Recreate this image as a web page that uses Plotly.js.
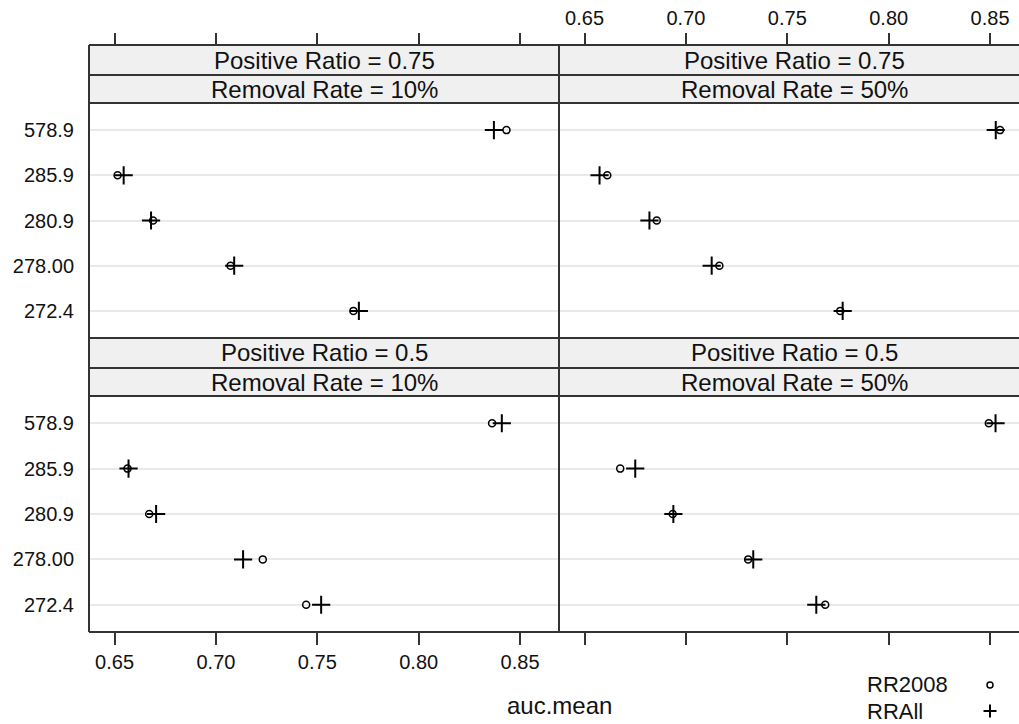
<!DOCTYPE html>
<html>
<head>
<meta charset="utf-8">
<script src="https://cdn.plot.ly/plotly-3.0.1.min.js"></script>
<style>
html, body { margin: 0; padding: 0; overflow: hidden; background: #fff; }
#chart { width: 1040px; height: 724px; }
</style>
</head>
<body>
<div id="chart"></div>
<script>
// ---- data ----
const categories = ["578.9", "285.9", "280.9", "278.00", "272.4"];
const tickVals = [0.65, 0.70, 0.75, 0.80, 0.85];
const tickText = ["0.65", "0.70", "0.75", "0.80", "0.85"];
const positiveRatio = ["0.75", "0.75", "0.5", "0.5"];
const removalRate = ["10%", "50%", "10%", "50%"];
const seriesNames = ["RR2008", "RRAll"];

// panel 1: Positive Ratio 0.75, Removal 10%
const rr2008_p75_r10 = [0.8433, 0.6515, 0.6690, 0.7072, 0.7678];
const rrall_p75_r10  = [0.8371, 0.6545, 0.6680, 0.7090, 0.7705];
// panel 2: Positive Ratio 0.75, Removal 50%
const rr2008_p75_r50 = [0.8549, 0.6612, 0.6856, 0.7165, 0.7761];
const rrall_p75_r50  = [0.8528, 0.6574, 0.6820, 0.7127, 0.7773];
// panel 3: Positive Ratio 0.5, Removal 10%
const rr2008_p50_r10 = [0.8362, 0.6564, 0.6671, 0.7231, 0.7445];
const rrall_p50_r10  = [0.8410, 0.6569, 0.6705, 0.7134, 0.7519];
// panel 4: Positive Ratio 0.5, Removal 50%
const rr2008_p50_r50 = [0.8494, 0.6676, 0.6935, 0.7307, 0.7687];
const rrall_p50_r50  = [0.8527, 0.6750, 0.6938, 0.7332, 0.7643];

const panelRR2008 = [rr2008_p75_r10, rr2008_p75_r50, rr2008_p50_r10, rr2008_p50_r50];
const panelRRAll  = [rrall_p75_r10, rrall_p75_r50, rrall_p50_r10, rrall_p50_r50];

// ---- layout helpers ----
const W = 1040, H = 724;
const fx = v => v / W;
const fy = v => 1 - v / H;
const FONT = "Liberation Sans, Arial, sans-serif";
const LINE = "#333333";
const xRange = [0.6374, 0.8692];

const colX = [[89, 559], [559, 1029]];
const rowY = [[103, 338], [396, 632]];   // panel bodies
const stripY = [[45, 75, 103], [338, 368, 396]];

const axKeys = ["", "2", "3", "4"];
const traces = [];
for (let p = 0; p < 4; p++) {
  const k = axKeys[p];
  traces.push({
    type: "scatter", mode: "markers", name: seriesNames[0],
    x: panelRR2008[p], y: categories,
    xaxis: "x" + k, yaxis: "y" + k, showlegend: false, cliponaxis: false,
    marker: { symbol: "circle-open", size: 7, color: "#000", line: { width: 1.5, color: "#000" } }
  });
  traces.push({
    type: "scatter", mode: "markers", name: seriesNames[1],
    x: panelRRAll[p], y: categories,
    xaxis: "x" + k, yaxis: "y" + k, showlegend: false, cliponaxis: false,
    marker: { symbol: "cross-thin-open", size: 13, color: "#000", line: { width: 2, color: "#000" } }
  });
}

const catOrder = categories.slice().reverse();
function yAxis(p, showLabels) {
  const r = rowY[Math.floor(p / 2)];
  return {
    domain: [fy(r[1]), fy(r[0])],
    anchor: "x" + axKeys[p],
    type: "category",
    categoryorder: "array",
    categoryarray: catOrder,
    range: [-0.6, 4.6],
    showgrid: true, gridcolor: "#e9e9e9", gridwidth: 2,
    zeroline: false, showline: false,
    ticks: "", showticklabels: showLabels,
    ticklabelstandoff: 14,
    tickfont: { family: FONT, size: 20, color: "#111" },
    fixedrange: true
  };
}
function xAxis(p, top, showLabels) {
  const c = colX[p % 2];
  const ax = {
    domain: [fx(c[0]), fx(c[1])],
    range: xRange,
    tickmode: "array", tickvals: tickVals, ticktext: tickText,
    ticks: "outside", ticklen: 12, tickwidth: 2, tickcolor: LINE,
    showticklabels: showLabels,
    tickfont: { family: FONT, size: 20, color: "#111" },
    showgrid: false, zeroline: false, showline: false,
    fixedrange: true
  };
  if (top) {
    ax.side = "top"; ax.anchor = "free"; ax.position = fy(45);
  } else {
    ax.side = "bottom"; ax.anchor = "y" + axKeys[p];
  }
  return ax;
}

const shapes = [];
// strip backgrounds
for (const c of colX) {
  for (const s of stripY) {
    shapes.push({ type: "rect", xref: "paper", yref: "paper", layer: "below",
      x0: fx(c[0]), x1: fx(c[1]), y0: fy(s[2]), y1: fy(s[0]),
      fillcolor: "#f0f0f0", line: { width: 0 } });
  }
}
// horizontal borders
for (const yy of [45, 75, 103, 338, 368, 396, 632]) {
  shapes.push({ type: "line", xref: "paper", yref: "paper", layer: "above",
    x0: fx(89), x1: fx(1029), y0: fy(yy), y1: fy(yy), line: { color: LINE, width: 2 } });
}
// vertical borders
for (const xx of [89, 559, 1029]) {
  shapes.push({ type: "line", xref: "paper", yref: "paper", layer: "above",
    x0: fx(xx), x1: fx(xx), y0: fy(45), y1: fy(632), line: { color: LINE, width: 2 } });
}
// legend key glyphs
shapes.push({ type: "circle", xref: "paper", yref: "paper",
  x0: fx(987), x1: fx(993), y0: fy(688), y1: fy(682), line: { color: "#000", width: 1.5 } });
shapes.push({ type: "line", xref: "paper", yref: "paper",
  x0: fx(983.5), x1: fx(996.5), y0: fy(711), y1: fy(711), line: { color: "#000", width: 2 } });
shapes.push({ type: "line", xref: "paper", yref: "paper",
  x0: fx(990), x1: fx(990), y0: fy(704.5), y1: fy(717.5), line: { color: "#000", width: 2 } });

const annotations = [];
for (let p = 0; p < 4; p++) {
  const c = colX[p % 2];
  const s = stripY[Math.floor(p / 2)];
  const cx = (c[0] + c[1]) / 2;
  annotations.push({ xref: "paper", yref: "paper", x: fx(cx), y: fy((s[0] + s[1]) / 2),
    text: "Positive Ratio = " + positiveRatio[p], showarrow: false,
    xanchor: "center", yanchor: "middle", font: { family: FONT, size: 24, color: "#111" } });
  annotations.push({ xref: "paper", yref: "paper", x: fx(cx), y: fy((s[1] + s[2]) / 2),
    text: "Removal Rate = " + removalRate[p], showarrow: false,
    xanchor: "center", yanchor: "middle", font: { family: FONT, size: 24, color: "#111" } });
}
annotations.push({ xref: "paper", yref: "paper", x: fx(559), y: fy(705),
  text: "auc.mean", showarrow: false, xanchor: "center", yanchor: "middle",
  font: { family: FONT, size: 24, color: "#111" } });
annotations.push({ xref: "paper", yref: "paper", x: fx(865), y: fy(684),
  text: seriesNames[0], showarrow: false, xanchor: "left", yanchor: "middle",
  font: { family: FONT, size: 22, color: "#111" } });
annotations.push({ xref: "paper", yref: "paper", x: fx(865), y: fy(711),
  text: seriesNames[1], showarrow: false, xanchor: "left", yanchor: "middle",
  font: { family: FONT, size: 22, color: "#111" } });

const layout = {
  width: W, height: H,
  margin: { l: 0, r: 0, t: 0, b: 0 },
  paper_bgcolor: "#fff", plot_bgcolor: "#fff",
  showlegend: false,
  xaxis: xAxis(0, true, false),
  xaxis2: xAxis(1, true, true),
  xaxis3: xAxis(2, false, true),
  xaxis4: xAxis(3, false, false),
  yaxis: yAxis(0, true),
  yaxis2: yAxis(1, false),
  yaxis3: yAxis(2, true),
  yaxis4: yAxis(3, false),
  shapes: shapes,
  annotations: annotations
};

Plotly.newPlot("chart", traces, layout, { staticPlot: true, displayModeBar: false });
</script>
</body>
</html>
